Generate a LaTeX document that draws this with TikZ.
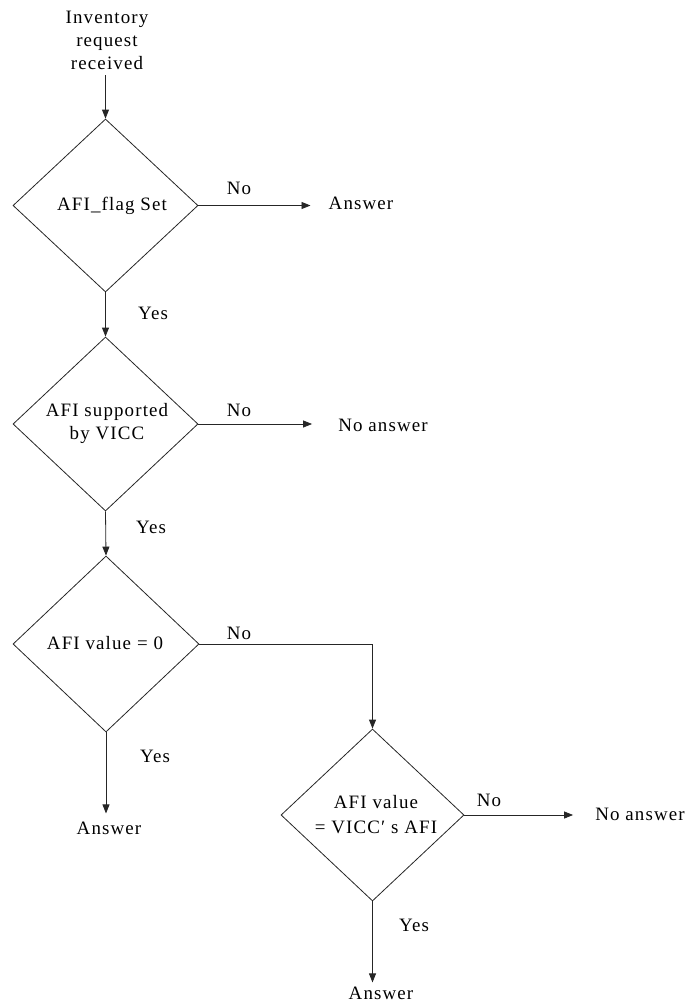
\documentclass[tikz,border=0pt]{standalone}
\usepackage{fontspec}
\setmainfont[LetterSpace=6]{Liberation Serif}
\usetikzlibrary{shapes.geometric,arrows.meta,calc}
\tikzset{
  dec/.style={diamond,draw=black!85,line width=0.8bp,inner sep=0pt,align=center,minimum width=185bp,minimum height=173bp},
  txt/.style={inner sep=0pt,align=center},
  arr/.style={draw=black!85,line width=0.8bp,-{Triangle[length=9bp,width=7bp]}},
  lbl/.style={inner sep=0pt}
}
\begin{document}
\begin{tikzpicture}[x=1bp,y=-1bp,font=\fontsize{19}{23}\selectfont]
\useasboundingbox (0,0) rectangle (686,1003);
% title
\node[txt] (start) at (107,40) {Inventory\\request\\received};
% decisions
\node[dec] (d1) at (105.5,205.5) {};
\node[txt] (t1) at (112,206) {AFI\_flag Set};
\node[dec,minimum height=174bp] (d2) at (105.5,424) {};
\node[txt] (t2) at (107,423.5) {AFI supported\\by VICC};
\node[dec,minimum width=186bp,minimum height=176bp] (d3) at (106,644) {};
\node[txt] (t3) at (105,643) {AFI value = 0};
\node[dec,minimum width=183bp,minimum height=172bp] (d4) at (372.5,815) {};
\node[txt,font=\fontsize{19}{25}\selectfont] (t4) at (376,815) {AFI value\\= VICC′ s AFI};
% outcomes
\node[txt] (a1) at (361,203) {Answer};
\node[txt] (n2) at (383,425) {No answer};
\node[txt] (a3) at (109,828) {Answer};
\node[txt] (n4) at (640,814) {No answer};
\node[txt] (a4) at (381,993) {Answer};
% labels
\node[lbl] (no1) at (239,188) {No};
\node[lbl] (yes1) at (153,313) {Yes};
\node[lbl] (no2) at (239,410) {No};
\node[lbl] (yes2) at (151,527) {Yes};
\node[lbl] (no3) at (239,633) {No};
\node[lbl] (yes3) at (155,756) {Yes};
\node[lbl] (no4) at (489,800) {No};
\node[lbl] (yes4) at (414,925) {Yes};
% connectors
\draw[arr,shorten <=6bp] (start.south -| d1.north) -- (d1.north);
\draw[arr,shorten >=18bp] (d1.east) -- (d1.east -| a1.west);
\draw[arr] (d1.south) -- (d2.north);
\draw[arr,shorten >=26bp] (d2.east) -- (d2.east -| n2.west);
\draw[arr] (d2.south) -- (d3.north);
\draw[arr] (d3.east) -| (d4.north);
\draw[arr,shorten >=8bp] (d3.south) -- (d3.south |- a3.north);
\draw[arr,shorten >=4bp] (d4.south) -- (d4.south |- a4.north);
\draw[arr,shorten >=22bp] (d4.east) -- (d4.east -| n4.west);
\end{tikzpicture}
\end{document}
